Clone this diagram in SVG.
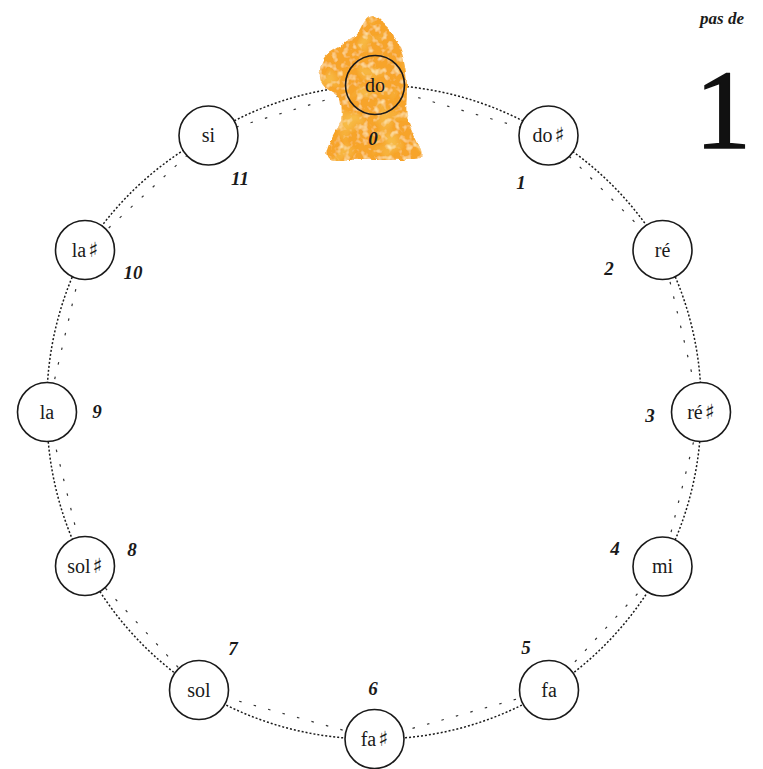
<svg xmlns="http://www.w3.org/2000/svg" width="763" height="769" viewBox="0 0 763 769">
  <style>
    .node circle { fill: #fff; stroke: #1a1a1a; stroke-width: 1.6; }
    .node text { font-family: "Liberation Serif", "DejaVu Serif", serif; font-size: 20px; fill: #1a1a1a; text-anchor: middle; }
    .sharp { font-family: "DejaVu Serif", serif; font-size: 21px; fill: #1a1a1a; }
    .arc { fill: none; stroke: #1a1a1a; stroke-width: 1.5; stroke-dasharray: 2 2; }
    .chord { fill: none; stroke: #333; stroke-width: 1.2; stroke-dasharray: 2.5 12.5; }
    .num { font-family: "Liberation Serif", "DejaVu Serif", serif; font-style: italic; font-weight: bold; font-size: 19px; fill: #1a1a1a; text-anchor: middle; }
  </style>
  <defs>
    <filter id="crayon" x="-10%" y="-10%" width="120%" height="120%">
      <feTurbulence type="fractalNoise" baseFrequency="0.11" numOctaves="3" seed="4" result="edgeNoise"/>
      <feDisplacementMap in="SourceGraphic" in2="edgeNoise" scale="5" xChannelSelector="R" yChannelSelector="G" result="ragged"/>
      <feTurbulence type="fractalNoise" baseFrequency="0.045" numOctaves="2" seed="2" result="blotch"/>
      <feColorMatrix in="blotch" type="matrix" values="0 0 0 0 0.93  0 0 0 0 0.55  0 0 0 0 0.08  0 0 0 2.5 -1.3" result="darkSpots"/>
      <feComposite in="darkSpots" in2="ragged" operator="in" result="darkIn"/>
      <feTurbulence type="fractalNoise" baseFrequency="0.16" numOctaves="2" seed="9" result="grain"/>
      <feColorMatrix in="grain" type="matrix" values="0 0 0 0 0.99  0 0 0 0 0.82  0 0 0 0 0.45  0 0 0 2.4 -1.2" result="lightSpots"/>
      <feComposite in="lightSpots" in2="ragged" operator="in" result="lightIn"/>
      <feMerge>
        <feMergeNode in="ragged"/>
        <feMergeNode in="darkIn"/>
        <feMergeNode in="lightIn"/>
      </feMerge>
    </filter>
  </defs>

  <!-- connectors: dotted arc of the circle plus sparse straight chord -->
  <g id="connectors">
    <path class="arc" d="M375,85 A327,327 0 0 1 548.5,135.5 A327,327 0 0 1 662.5,250 A327,327 0 0 1 701,412 A327,327 0 0 1 662.5,566.5 A327,327 0 0 1 549,690 A327,327 0 0 1 374.5,739 A327,327 0 0 1 199,690 A327,327 0 0 1 85,566 A327,327 0 0 1 47,412 A327,327 0 0 1 85,250 A327,327 0 0 1 208.5,135.5 A327,327 0 0 1 375,85"/>
    <path class="chord" d="M375,85 L548.5,135.5 L662.5,250 L701,412 L662.5,566.5 L549,690 L374.5,739 L199,690 L85,566 L47,412 L85,250 L208.5,135.5 Z"/>
  </g>

  <g id="n-do" class="node"><circle cx="375" cy="85" r="29.5"/></g>
  <g id="n-dos" class="node"><circle cx="548.5" cy="135.5" r="29.5"/><text x="548.5" y="142">do<tspan class="sharp" dx="2">♯︎</tspan></text></g>
  <g id="n-re" class="node"><circle cx="662.5" cy="250" r="29.5"/><text x="662.5" y="257">ré</text></g>
  <g id="n-res" class="node"><circle cx="701" cy="412" r="29.5"/><text x="701" y="419">ré<tspan class="sharp" dx="2">♯︎</tspan></text></g>
  <g id="n-mi" class="node"><circle cx="662.5" cy="566.5" r="29.5"/><text x="662.5" y="573">mi</text></g>
  <g id="n-fa" class="node"><circle cx="549" cy="690" r="29.5"/><text x="549" y="697">fa</text></g>
  <g id="n-fas" class="node"><circle cx="374.5" cy="739" r="29.5"/><text x="374.5" y="746">fa<tspan class="sharp" dx="2">♯︎</tspan></text></g>
  <g id="n-sol" class="node"><circle cx="199" cy="690" r="29.5"/><text x="199" y="697">sol</text></g>
  <g id="n-sols" class="node"><circle cx="85" cy="566" r="29.5"/><text x="85" y="573">sol<tspan class="sharp" dx="2">♯︎</tspan></text></g>
  <g id="n-la" class="node"><circle cx="47" cy="412" r="29.5"/><text x="47" y="419">la</text></g>
  <g id="n-las" class="node"><circle cx="85" cy="250" r="29.5"/><text x="85" y="257">la<tspan class="sharp" dx="2">♯︎</tspan></text></g>
  <g id="n-si" class="node"><circle cx="208.5" cy="135.5" r="29.5"/><text x="208.5" y="142">si</text></g>

  <!-- orange knight piece marking the current position -->
  <g id="knight">
    <path filter="url(#crayon)" fill="#F7A42C" d="M372,15 C378,16 382,20 385,26 C392,32 398,40 401,50 C405,62 407,76 407,90 C407,102 405,110 408,120 C412,132 418,142 421,150 C423,157 420,160 414,160 L334,160 C328,160 325,156 327,150 C330,140 337,130 341,120 C343,112 341,104 340,98 C336,94 330,92 326,88 C321,84 319,78 320,70 C321,62 324,56 330,52 C336,48 344,44 350,40 C356,36 360,30 363,23 C366,18 369,15 372,15 Z"/>
  </g>

  <!-- active node drawn again over the knight -->
  <g id="n-do-label" class="node">
    <circle cx="375" cy="85" r="29.5" style="fill:none"/>
    <text x="375" y="92">do</text>
  </g>

  <g id="labels">
    <text class="num" x="373" y="145">0</text>
    <text class="num" x="521" y="189">1</text>
    <text class="num" x="609" y="275">2</text>
    <text class="num" x="650" y="422">3</text>
    <text class="num" x="615" y="555">4</text>
    <text class="num" x="526" y="654">5</text>
    <text class="num" x="373" y="695">6</text>
    <text class="num" x="233" y="655">7</text>
    <text class="num" x="132" y="556">8</text>
    <text class="num" x="97" y="418">9</text>
    <text class="num" x="133" y="279">10</text>
    <text class="num" x="240" y="185">11</text>
  </g>

  <g id="step">
    <text x="722" y="24" font-family="Liberation Serif, DejaVu Serif, serif" font-style="italic" font-weight="bold" font-size="17" fill="#1a1a1a" text-anchor="middle">pas de</text>
    <text x="723" y="148" font-family="Liberation Serif, DejaVu Serif, serif" font-size="112" fill="#111" stroke="#111" stroke-width="1.6" text-anchor="middle">1</text>
  </g>
</svg>
